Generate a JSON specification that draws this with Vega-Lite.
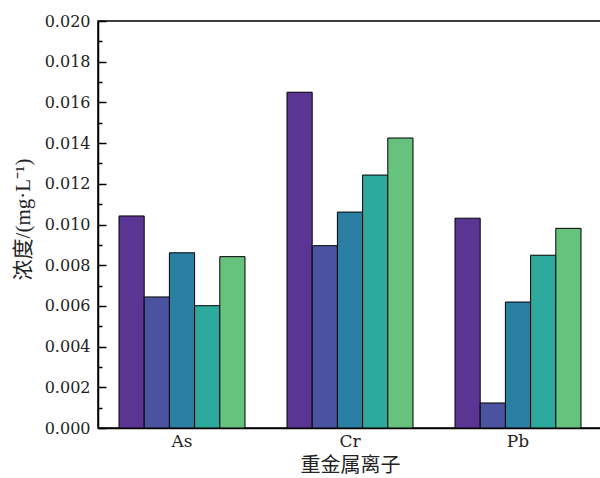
{
  "$schema": "https://vega.github.io/schema/vega-lite/v6.json",
  "width": 504,
  "height": 407,
  "autosize": "none",
  "padding": {"left": 98, "top": 21, "right": 0, "bottom": 50},
  "background": "white",
  "config": {
    "view": {"stroke": "black", "strokeWidth": 1.5},
    "font": "Liberation Serif, serif"
  },
  "data": {
    "values": [
      {"ion": "As", "series": "S1", "value": 0.01042},
      {"ion": "As", "series": "S2", "value": 0.00644},
      {"ion": "As", "series": "S3", "value": 0.00861},
      {"ion": "As", "series": "S4", "value": 0.00601},
      {"ion": "As", "series": "S5", "value": 0.00842},
      {"ion": "Cr", "series": "S1", "value": 0.01650},
      {"ion": "Cr", "series": "S2", "value": 0.00896},
      {"ion": "Cr", "series": "S3", "value": 0.01061},
      {"ion": "Cr", "series": "S4", "value": 0.01243},
      {"ion": "Cr", "series": "S5", "value": 0.01425},
      {"ion": "Pb", "series": "S1", "value": 0.01031},
      {"ion": "Pb", "series": "S2", "value": 0.00123},
      {"ion": "Pb", "series": "S3", "value": 0.00619},
      {"ion": "Pb", "series": "S4", "value": 0.00849},
      {"ion": "Pb", "series": "S5", "value": 0.00981}
    ]
  },
  "layer": [
    {
      "mark": {"type": "bar", "stroke": "black", "strokeWidth": 1},
      "encoding": {
        "x": {
          "field": "ion", "type": "nominal",
          "scale": {"paddingInner": 0.25, "paddingOuter": 0.125},
          "axis": {
            "title": "重金属离子", "labelAngle": 0, "ticks": false,
            "domainColor": "black", "domainWidth": 1.5,
            "labelFont": "DejaVu Serif", "labelFontSize": 17, "labelColor": "#222", "labelFontWeight": "normal",
            "labelPadding": 5,
            "titleFont": "Liberation Serif, Noto Sans CJK SC", "titleFontSize": 20, "titleFontWeight": "normal",
            "titleColor": "#222", "titlePadding": 6
          }
        },
        "xOffset": {"field": "series", "type": "nominal", "scale": {"paddingInner": 0, "paddingOuter": 0}},
        "y": {
          "field": "value", "type": "quantitative",
          "scale": {"domain": [0, 0.02], "nice": false},
          "axis": {
            "title": "浓度/(mg·L⁻¹)",
            "values": [0, 0.002, 0.004, 0.006, 0.008, 0.01, 0.012, 0.014, 0.016, 0.018, 0.02],
            "format": ".3f", "grid": false,
            "tickSize": -8, "tickColor": "black", "tickWidth": 1.5,
            "domainColor": "black", "domainWidth": 1.5,
            "labelFont": "DejaVu Serif", "labelFontSize": 16, "labelColor": "#222", "labelFontWeight": "normal",
            "labelPadding": 16,
            "titleFont": "Liberation Serif, Noto Sans CJK SC", "titleFontSize": 21, "titleFontWeight": "normal",
            "titleColor": "#222", "titlePadding": 11, "titleY": 198
          }
        },
        "color": {
          "field": "series", "type": "nominal", "legend": null,
          "scale": {"range": ["#5b3593", "#4b53a0", "#2a7ea2", "#2ea99d", "#66c27d"]}
        }
      }
    },
    {
      "mark": {"type": "rule", "opacity": 0},
      "encoding": {
        "y": {
          "datum": 0.001, "type": "quantitative",
          "axis": {
            "orient": "left", "title": null, "labels": false, "domain": false, "grid": false,
            "values": [0.001, 0.003, 0.005, 0.007, 0.009, 0.011, 0.013, 0.015, 0.017, 0.019],
            "tickSize": -4, "tickColor": "black", "tickWidth": 1.5
          }
        }
      }
    }
  ],
  "resolve": {"axis": {"y": "independent"}}
}
